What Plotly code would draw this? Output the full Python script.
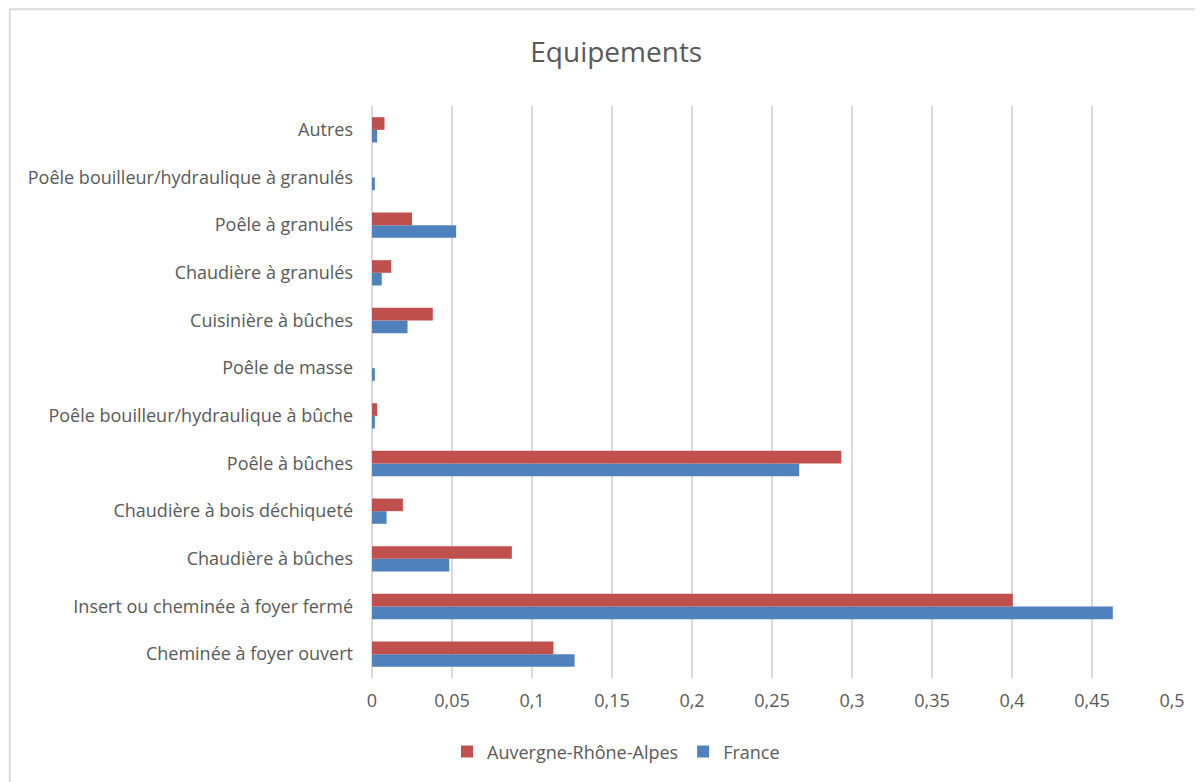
import plotly.graph_objects as go

# categories listed bottom -> top, as on the chart
categories = [
    "Cheminée à foyer ouvert",
    "Insert ou cheminée à foyer fermé",
    "Chaudière à bûches",
    "Chaudière à bois déchiqueté",
    "Poêle à bûches",
    "Poêle bouilleur/hydraulique à bûche",
    "Poêle de masse",
    "Cuisinière à bûches",
    "Chaudière à granulés",
    "Poêle à granulés",
    "Poêle bouilleur/hydraulique à granulés",
    "Autres",
]

auvergne = [0.1134, 0.4005, 0.0874, 0.0193, 0.2933, 0.0032, 0.0, 0.038, 0.012, 0.025, 0.0, 0.0078]
france = [0.1266, 0.463, 0.0483, 0.0091, 0.267, 0.0018, 0.0018, 0.0222, 0.0061, 0.0526, 0.0018, 0.0032]

x_ticks = [0, 0.05, 0.1, 0.15, 0.2, 0.25, 0.3, 0.35, 0.4, 0.45, 0.5]
x_labels = ["0", "0,05", "0,1", "0,15", "0,2", "0,25", "0,3", "0,35", "0,4", "0,45", "0,5"]

font_name = "Open Sans"
text_color = "#595959"
grid_color = "#D9D9D9"

fig = go.Figure()

# France first so it sits below in each group (Excel look)
fig.add_trace(go.Bar(
    name="France", y=categories, x=france, orientation="h",
    marker=dict(color="#4F81BD", line=dict(width=0)), legendrank=2,
))
fig.add_trace(go.Bar(
    name="Auvergne-Rhône-Alpes", y=categories, x=auvergne, orientation="h",
    marker=dict(color="#C0504D", line=dict(width=0)), legendrank=1,
))

fig.update_layout(
    width=1195, height=774,
    paper_bgcolor="white", plot_bgcolor="white",
    barmode="group", bargap=0.47, bargroupgap=0,
    margin=dict(l=363.5, r=31, t=98, b=104),
    font=dict(family=font_name, size=18, color=text_color),
    title=dict(text="Equipements", x=0.509, xanchor="center", y=0.943, yanchor="middle",
               font=dict(family=font_name, size=28, color=text_color)),
    xaxis=dict(
        range=[0, 0.5], tickvals=x_ticks, ticktext=x_labels,
        showgrid=True, gridcolor=grid_color, gridwidth=2,
        zeroline=True, zerolinecolor=grid_color, zerolinewidth=2,
        showline=False, ticks="", ticklabelstandoff=10,
        tickfont=dict(size=18, color=text_color), fixedrange=True,
    ),
    yaxis=dict(
        type="category", showgrid=False, zeroline=False, showline=False,
        ticks="", ticklabelstandoff=18,
        tickfont=dict(size=18, color=text_color), fixedrange=True,
    ),
    legend=dict(
        orientation="h", x=0.305, xanchor="center", y=-0.129, yanchor="middle",
        font=dict(size=18, color=text_color), itemwidth=30,
    ),
    shapes=[dict(
        type="rect", xref="paper", yref="paper",
        x0=-0.4528, x1=1.05, y0=-0.2, y1=1.169,
        line=dict(color=grid_color, width=2), fillcolor="rgba(0,0,0,0)", layer="below",
    )],
)

fig.write_html("out.html")
